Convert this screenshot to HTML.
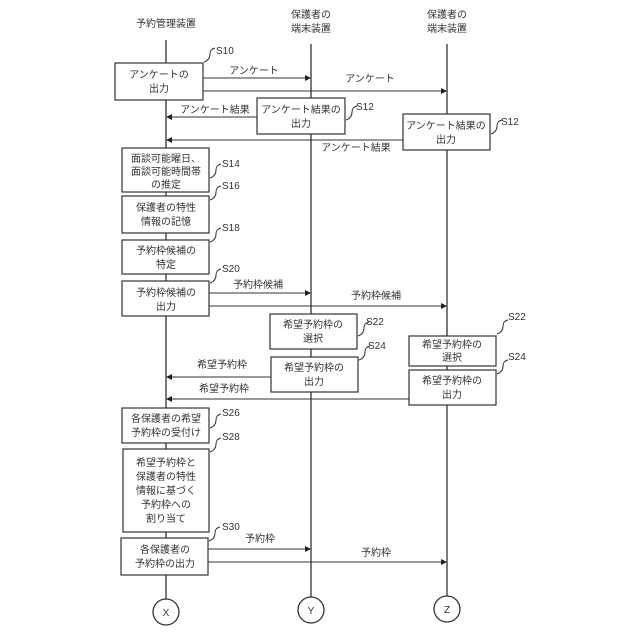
<!DOCTYPE html>
<html><head><meta charset="utf-8"><style>body{margin:0;background:#fff}svg{display:block}text{font-family:"Liberation Sans","Noto Sans CJK JP",sans-serif;fill:#333;font-size:10px}</style></head><body>
<svg width="640" height="640" viewBox="0 0 640 640" xmlns="http://www.w3.org/2000/svg">
<defs><marker id="a" markerWidth="6" markerHeight="6" refX="5" refY="3" orient="auto" markerUnits="userSpaceOnUse"><path d="M0,0 L6,3 L0,6 z" fill="#222"/></marker></defs>
<g stroke="#333" stroke-width="1.3" fill="none">
<line x1="166" y1="40" x2="166" y2="599"/><line x1="311" y1="44" x2="311" y2="597"/><line x1="447" y1="44" x2="447" y2="596"/>
<circle cx="166" cy="612" r="13" fill="#fff"/><circle cx="311" cy="610" r="13" fill="#fff"/><circle cx="447" cy="609" r="13" fill="#fff"/>
</g>
<g stroke="#333" stroke-width="1" fill="none" marker-end="url(#a)">
<line x1="203" y1="78" x2="310" y2="78"/><line x1="203" y1="91" x2="446" y2="91"/>
<line x1="257" y1="117" x2="167" y2="117"/><line x1="403" y1="140" x2="167" y2="140"/>
<line x1="209" y1="293" x2="310" y2="293"/><line x1="209" y1="306" x2="446" y2="306"/>
<line x1="271" y1="377" x2="167" y2="377"/><line x1="409" y1="399" x2="167" y2="399"/>
<line x1="208" y1="549" x2="310" y2="549"/><line x1="208" y1="562" x2="446" y2="562"/>
</g>
<g stroke="#333" stroke-width="1.2" fill="#fff">
<rect x="115" y="63" width="88" height="37"/>
<rect x="257" y="98" width="88" height="36"/>
<rect x="403" y="114" width="87" height="36"/>
<rect x="122" y="148" width="87" height="44"/>
<rect x="122" y="196" width="87" height="37"/>
<rect x="122" y="240" width="87" height="34"/>
<rect x="122" y="281" width="87" height="35"/>
<rect x="270" y="314" width="87" height="35"/>
<rect x="271" y="357" width="87" height="35"/>
<rect x="409" y="336" width="87" height="30"/>
<rect x="409" y="370" width="87" height="35"/>
<rect x="122" y="408" width="87" height="35"/>
<rect x="123" y="449" width="86" height="83"/>
<rect x="121" y="538" width="87" height="37"/>
</g>
<g stroke="#333" stroke-width="1" fill="none">
<path d="M204,62 q6,-2 6,-8 q0,-5 5,-6"/><path d="M346,120 q6,-2 6,-8 q0,-5 5,-6"/><path d="M491,134 q6,-2 6,-8 q0,-5 5,-6"/>
<path d="M210,178 q6,-2 6,-8 q0,-5 5,-6"/><path d="M210,200 q6,-2 6,-8 q0,-5 5,-6"/><path d="M210,242 q6,-2 6,-8 q0,-5 5,-6"/>
<path d="M210,283 q6,-2 6,-8 q0,-5 5,-6"/><path d="M358,336 q6,-2 6,-8 q0,-5 5,-6"/><path d="M359,360 q6,-2 6,-8 q0,-5 5,-6"/>
<path d="M497,334 q6,-2 6,-8 q0,-5 5,-6"/><path d="M497,374 q6,-2 6,-8 q0,-5 5,-6"/><path d="M210,428 q6,-2 6,-8 q0,-5 5,-6"/>
<path d="M210,452 q6,-2 6,-8 q0,-5 5,-6"/><path d="M209,541 q6,-2 6,-8 q0,-5 5,-6"/>
</g>
<g text-anchor="middle">
<text x="166" y="27">予約管理装置</text>
<text x="311" y="18">保護者の</text><text x="311" y="32">端末装置</text>
<text x="447" y="18">保護者の</text><text x="447" y="32">端末装置</text>
<text x="159" y="78">アンケートの</text><text x="159" y="92">出力</text>
<text x="301" y="113">アンケート結果の</text><text x="301" y="127">出力</text>
<text x="446" y="129">アンケート結果の</text><text x="446" y="143">出力</text>
<text x="166" y="162">面談可能曜日、</text><text x="166" y="175">面談可能時間帯</text><text x="166" y="188">の推定</text>
<text x="166" y="211">保護者の特性</text><text x="166" y="225">情報の記憶</text>
<text x="166" y="254">予約枠候補の</text><text x="166" y="268">特定</text>
<text x="166" y="296">予約枠候補の</text><text x="166" y="310">出力</text>
<text x="313" y="328">希望予約枠の</text><text x="313" y="342">選択</text>
<text x="314" y="371">希望予約枠の</text><text x="314" y="385">出力</text>
<text x="452" y="348">希望予約枠の</text><text x="452" y="361">選択</text>
<text x="452" y="384">希望予約枠の</text><text x="452" y="398">出力</text>
<text x="166" y="422">各保護者の希望</text><text x="166" y="436">予約枠の受付け</text>
<text x="166" y="466">希望予約枠と</text><text x="166" y="480">保護者の特性</text><text x="166" y="494">情報に基づく</text><text x="166" y="508">予約枠への</text><text x="166" y="522">割り当て</text>
<text x="165" y="553">各保護者の</text><text x="165" y="567">予約枠の出力</text>
<text x="254" y="74">アンケート</text><text x="370" y="82">アンケート</text>
<text x="215" y="113">アンケート結果</text><text x="356" y="151">アンケート結果</text>
<text x="258" y="288">予約枠候補</text><text x="376" y="299">予約枠候補</text>
<text x="222" y="368">希望予約枠</text><text x="224" y="392">希望予約枠</text>
<text x="260" y="542">予約枠</text><text x="376" y="556">予約枠</text>
<text x="166" y="616">X</text><text x="311" y="614">Y</text><text x="447" y="613">Z</text>
</g>
<g>
<text x="216" y="54">S10</text><text x="356" y="110">S12</text><text x="501" y="125">S12</text>
<text x="222" y="167">S14</text><text x="222" y="189">S16</text><text x="222" y="231">S18</text>
<text x="222" y="272">S20</text><text x="366" y="325">S22</text><text x="368" y="349">S24</text>
<text x="508" y="320">S22</text><text x="508" y="360">S24</text><text x="222" y="416">S26</text>
<text x="222" y="440">S28</text><text x="222" y="530">S30</text>
</g>
</svg>
</body></html>
